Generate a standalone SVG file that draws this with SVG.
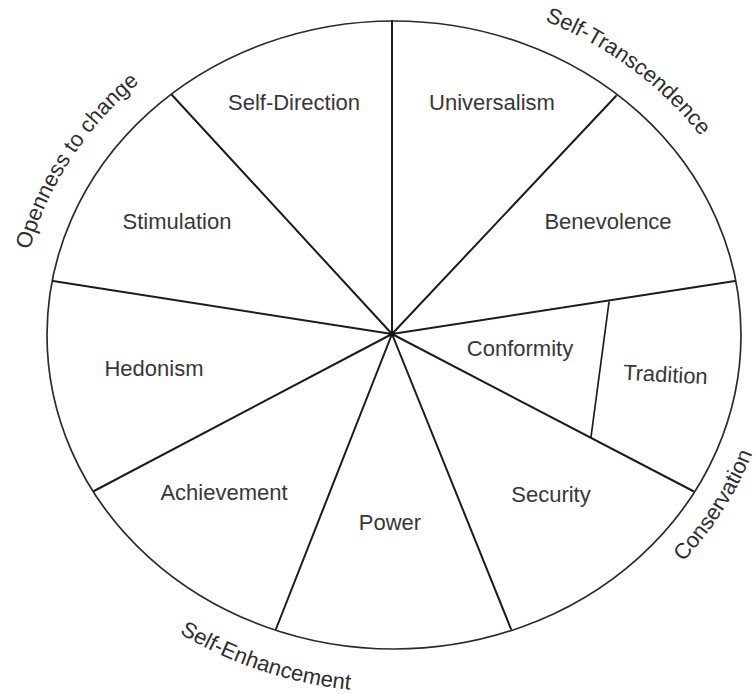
<svg xmlns="http://www.w3.org/2000/svg" xmlns:xlink="http://www.w3.org/1999/xlink" width="756" height="694" viewBox="0 0 756 694">
  <style>
    .rim { fill: #ffffff; stroke: #2b2b2b; stroke-width: 1.7; }
    .spoke { stroke: #1c1c1c; stroke-width: 2; stroke-linecap: round; fill: none; }
    .val { font-family: "Liberation Sans", Arial, sans-serif; font-size: 22px; fill: #363640; text-anchor: middle; }
    .grp { font-family: "Liberation Sans", Arial, sans-serif; font-size: 22px; fill: #2e2e2e; text-anchor: middle; }
  </style>
  <defs>
    <!-- baselines for the four higher-order labels, concentric with the wheel -->
    <path id="arcOpen" d="M 24.0 394.0 A 374 341 0 0 1 266.0 13.0"/>
    <path id="arcTrans" d="M 394 -8 A 376 343 0 0 1 764.3 275.4"/>
    <path id="arcCons" d="M 528.0 660.7 A 381 348 0 0 0 768.5 270.9"/>
    <path id="arcEnh" d="M 54.5 510.8 A 390 357 0 0 0 524.2 671.5"/>
  </defs>

  <rect width="756" height="694" fill="#ffffff"/>

  <!-- outer wheel -->
  <ellipse id="wheel" class="rim" cx="394" cy="335" rx="347" ry="314"/>

  <!-- dividing spokes -->
  <g id="spokes">
    <line class="spoke" x1="392" y1="334" x2="392" y2="21"/>
    <line class="spoke" x1="392" y1="334" x2="616" y2="96"/>
    <line class="spoke" x1="392" y1="334" x2="735" y2="281"/>
    <line class="spoke" x1="392" y1="334" x2="693" y2="491"/>
    <line class="spoke" x1="392" y1="334" x2="511" y2="629"/>
    <line class="spoke" x1="392" y1="334" x2="276" y2="629"/>
    <line class="spoke" x1="392" y1="334" x2="94" y2="491"/>
    <line class="spoke" x1="392" y1="334" x2="53" y2="281"/>
    <line class="spoke" x1="392" y1="334" x2="172" y2="95"/>
    <line class="spoke" x1="609" y1="302" x2="591" y2="437" style="stroke-width:1.7"/>
    <circle cx="392" cy="334" r="2.6" fill="#111111"/>
  </g>

  <!-- value segments -->
  <g id="self-direction"><text class="val" x="294" y="110">Self-Direction</text></g>
  <g id="universalism"><text class="val" x="492" y="110">Universalism</text></g>
  <g id="stimulation"><text class="val" x="177" y="229">Stimulation</text></g>
  <g id="benevolence"><text class="val" x="608" y="229">Benevolence</text></g>
  <g id="hedonism"><text class="val" x="154" y="376">Hedonism</text></g>
  <g id="conformity"><text class="val" x="520" y="356">Conformity</text></g>
  <g id="tradition"><text class="val" x="665" y="382" transform="rotate(3 665 382)">Tradition</text></g>
  <g id="achievement"><text class="val" x="224" y="500">Achievement</text></g>
  <g id="power"><text class="val" x="390" y="530">Power</text></g>
  <g id="security"><text class="val" x="551" y="502">Security</text></g>

  <!-- higher-order dimensions around the rim -->
  <g id="openness"><text class="grp"><textPath xlink:href="#arcOpen" href="#arcOpen" startOffset="50%">Openness to change</textPath></text></g>
  <g id="self-transcendence"><text class="grp"><textPath xlink:href="#arcTrans" href="#arcTrans" startOffset="50%">Self-Transcendence</textPath></text></g>
  <g id="conservation"><text class="grp"><textPath xlink:href="#arcCons" href="#arcCons" startOffset="50%">Conservation</textPath></text></g>
  <g id="self-enhancement"><text class="grp"><textPath xlink:href="#arcEnh" href="#arcEnh" startOffset="50%">Self-Enhancement</textPath></text></g>
</svg>
